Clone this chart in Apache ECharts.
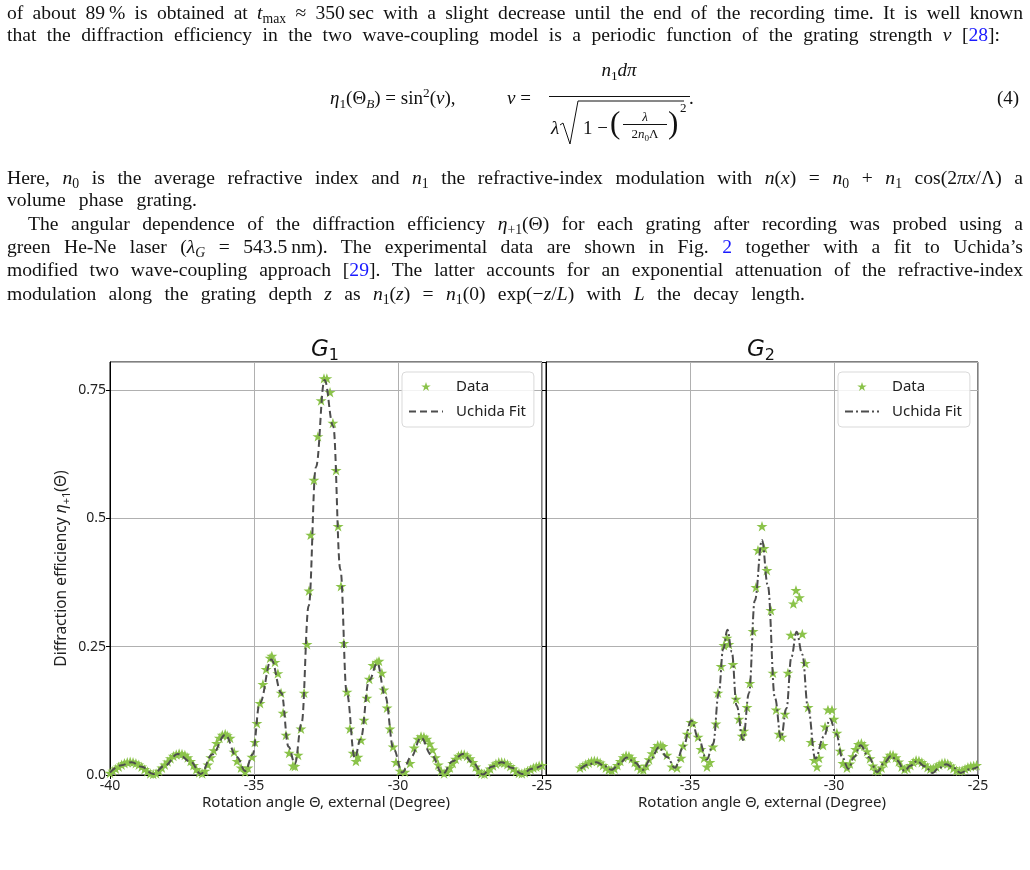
<!doctype html>
<html>
<head>
<meta charset="utf-8">
<style>
body { margin: 0; background: #fff; }
#chart { position: absolute; left: 0; top: 0; width: 1030px; height: 870px; }
.ln { position: absolute; font-family: "Liberation Serif", serif; font-size: 19.6px; line-height: 22px;
      text-align: justify; text-align-last: justify; color: #111; z-index: 2; }
.m { position: absolute; font-family: "Liberation Serif", serif; font-size: 19px; line-height: 19px;
     white-space: nowrap; color: #111; z-index: 2; }
sub { font-size: 70%; vertical-align: -0.3em; line-height: 0; }
sup { font-size: 70%; vertical-align: 0.5em; line-height: 0; }
.b { color: #1a1aff; }
</style>
<script src="https://cdn.jsdelivr.net/npm/echarts@6/dist/echarts.min.js"></script>
</head>
<body>
<div class="ln" style="left:7px;top:2px;width:1016px">of about 89&thinsp;% is obtained at <i>t</i><sub>max</sub> &asymp; 350&thinsp;sec with a slight decrease until the end of the recording time. It is well known</div>
<div class="ln" style="left:7px;top:24px;width:993px">that the diffraction efficiency in the two wave-coupling model is a periodic function of the grating strength <i>&nu;</i> [<span class="b">28</span>]:</div>

<!-- equation (4) -->
<div class="m" style="left:330px;top:88px"><i>&eta;</i><sub>1</sub>(&Theta;<sub><i>B</i></sub>) = sin<sup>2</sup>(<i>&nu;</i>),</div>
<div class="m" style="left:507px;top:88px"><i>&nu;</i> =</div>
<div class="m" style="left:549px;top:60px;width:140px;text-align:center"><i>n</i><sub>1</sub><i>d&pi;</i></div>
<div style="position:absolute;left:549px;top:96px;width:141px;border-top:1px solid #111"></div>
<div class="m" style="left:551px;top:118px"><i>&lambda;</i></div>
<svg style="position:absolute;left:558px;top:98px" width="128" height="50">
  <polyline points="2,27 5,25 12,46 20,3 126,3" fill="none" stroke="#111" stroke-width="1"/>
</svg>
<div class="m" style="left:583px;top:118px">1 &minus;</div>
<div class="m" style="left:610px;top:107px;font-size:31px;line-height:31px">(</div>
<div class="m" style="left:622px;top:110px;width:46px;text-align:center;font-size:13px;line-height:13px"><i>&lambda;</i></div>
<div style="position:absolute;left:623px;top:124px;width:44px;border-top:1px solid #111"></div>
<div class="m" style="left:622px;top:127px;width:46px;text-align:center;font-size:13px;line-height:13px">2<i>n</i><sub>0</sub>&Lambda;</div>
<div class="m" style="left:668px;top:107px;font-size:31px;line-height:31px">)</div>
<div class="m" style="left:680px;top:101px;font-size:13px;line-height:13px">2</div>
<div class="m" style="left:689px;top:88px">.</div>
<div class="m" style="left:997px;top:88px">(4)</div>

<div class="ln" style="left:7px;top:167px;width:1016px">Here, <i>n</i><sub>0</sub> is the average refractive index and <i>n</i><sub>1</sub> the refractive-index modulation with <i>n</i>(<i>x</i>) = <i>n</i><sub>0</sub> + <i>n</i><sub>1</sub> cos(2<i>&pi;x</i>/&Lambda;) a</div>
<div class="ln" style="left:7px;top:189px;width:190px">volume phase grating.</div>
<div class="ln" style="left:28px;top:213px;width:995px">The angular dependence of the diffraction efficiency <i>&eta;</i><sub>+1</sub>(&Theta;) for each grating after recording was probed using a</div>
<div class="ln" style="left:7px;top:236px;width:1016px">green He-Ne laser (<i>&lambda;</i><sub><i>G</i></sub> = 543.5&thinsp;nm). The experimental data are shown in Fig. <span class="b">2</span> together with a fit to Uchida&rsquo;s</div>
<div class="ln" style="left:7px;top:259px;width:1016px">modified two wave-coupling approach [<span class="b">29</span>]. The latter accounts for an exponential attenuation of the refractive-index</div>
<div class="ln" style="left:7px;top:283px;width:798px">modulation along the grating depth <i>z</i> as <i>n</i><sub>1</sub>(<i>z</i>) = <i>n</i><sub>1</sub>(0) exp(&minus;<i>z</i>/<i>L</i>) with <i>L</i> the decay length.</div>

<div id="chart"></div>

<script type="text/javascript">
var g1Data = [
    [-40.0,0.004],[-39.9,0.008],[-39.8,0.012],[-39.7,0.016],[-39.6,0.02],[-39.5,0.023],[-39.4,0.025],[-39.3,0.026],
    [-39.2,0.025],[-39.1,0.023],[-39.0,0.02],[-38.9,0.016],[-38.8,0.011],[-38.7,0.007],[-38.6,0.003],[-38.5,0.002],
    [-38.4,0.003],[-38.3,0.008],[-38.2,0.014],[-38.1,0.02],[-38.0,0.026],[-37.9,0.032],[-37.8,0.037],[-37.7,0.04],
    [-37.6,0.042],[-37.5,0.041],[-37.4,0.039],[-37.3,0.034],[-37.2,0.027],[-37.1,0.019],[-37.0,0.011],[-36.9,0.005],
    [-36.8,0.003],[-36.7,0.008],[-36.6,0.02],[-36.5,0.034],[-36.4,0.048],[-36.3,0.062],[-36.2,0.072],[-36.1,0.078],
    [-36.0,0.08],[-35.93,0.077],[-35.83,0.072],[-35.69,0.045],[-35.59,0.027],[-35.45,0.014],[-35.31,0.006],[-35.21,0.014],
    [-35.07,0.035],[-34.97,0.064],[-34.9,0.101],[-34.79,0.14],[-34.69,0.177],[-34.58,0.206],[-34.44,0.228],[-34.38,0.232],
    [-34.27,0.22],[-34.17,0.198],[-34.06,0.16],[-33.99,0.121],[-33.89,0.078],[-33.78,0.043],[-33.65,0.018],[-33.58,0.017],
    [-33.47,0.039],[-33.37,0.09],[-33.26,0.16],[-33.16,0.255],[-33.09,0.359],[-33.03,0.468],[-32.92,0.575],[-32.78,0.66],
    [-32.67,0.73],[-32.57,0.773],[-32.47,0.773],[-32.36,0.746],[-32.26,0.686],[-32.15,0.594],[-32.08,0.485],[-31.98,0.368],
    [-31.88,0.257],[-31.77,0.162],[-31.67,0.09],[-31.56,0.043],[-31.46,0.027],[-31.39,0.035],[-31.28,0.068],[-31.18,0.107],
    [-31.08,0.15],[-31.0,0.187],[-30.87,0.214],[-30.73,0.22],[-30.66,0.222],[-30.56,0.199],[-30.49,0.166],[-30.38,0.131],
    [-30.28,0.09],[-30.17,0.055],[-30.07,0.025],[-29.93,0.008],[-29.76,0.006],[-29.58,0.023],[-29.44,0.053],[-29.31,0.07],
    [-29.2,0.075],[-29.1,0.074],[-29.0,0.07],[-28.9,0.061],[-28.8,0.049],[-28.7,0.034],[-28.6,0.02],[-28.5,0.008],
    [-28.4,0.003],[-28.3,0.006],[-28.2,0.014],[-28.1,0.023],[-28.0,0.031],[-27.9,0.037],[-27.8,0.04],[-27.7,0.04],
    [-27.6,0.037],[-27.5,0.032],[-27.4,0.025],[-27.3,0.016],[-27.2,0.008],[-27.1,0.003],[-27.0,0.002],[-26.9,0.006],
    [-26.8,0.012],[-26.7,0.018],[-26.6,0.022],[-26.5,0.025],[-26.4,0.025],[-26.3,0.024],[-26.2,0.021],[-26.1,0.017],
    [-26.0,0.012],[-25.9,0.007],[-25.8,0.004],[-25.7,0.003],[-25.6,0.005],[-25.5,0.008],[-25.4,0.011],[-25.3,0.014],
    [-25.2,0.016],[-25.1,0.018],[-25.0,0.019]
];
var g1Fit = [
    [-40.0,0.005],[-39.6,0.019],[-39.25,0.025],[-38.9,0.016],[-38.5,0.002],[-38.1,0.018],[-37.65,0.041],[-37.2,0.026],
    [-36.85,0.002],[-36.45,0.04],[-36.0,0.078],[-35.6,0.035],[-35.3,0.008],[-35.05,0.04],[-34.8,0.14],[-34.4,0.225],
    [-34.05,0.16],[-33.8,0.055],[-33.58,0.022],[-33.35,0.1],[-33.1,0.33],[-32.85,0.6],[-32.55,0.77],[-32.25,0.68],
    [-32.0,0.4],[-31.78,0.16],[-31.5,0.033],[-31.3,0.07],[-31.0,0.185],[-30.72,0.218],[-30.45,0.155],[-30.15,0.05],
    [-29.85,0.005],[-29.55,0.035],[-29.2,0.073],[-28.85,0.04],[-28.45,0.002],[-28.1,0.027],[-27.75,0.041],[-27.4,0.024],
    [-27.05,0.001],[-26.75,0.016],[-26.4,0.025],[-26.05,0.014],[-25.7,0.002],[-25.35,0.012],[-25.0,0.019]
];
var g2Data = [
    [-38.82,0.014],[-38.72,0.017],[-38.62,0.021],[-38.52,0.024],[-38.42,0.027],[-38.32,0.028],[-38.22,0.027],[-38.12,0.024],
    [-38.02,0.019],[-37.92,0.014],[-37.82,0.01],[-37.72,0.009],[-37.62,0.012],[-37.52,0.019],[-37.42,0.027],[-37.32,0.034],
    [-37.22,0.038],[-37.12,0.037],[-37.02,0.032],[-36.92,0.025],[-36.82,0.017],[-36.72,0.011],[-36.62,0.01],[-36.52,0.018],
    [-36.42,0.03],[-36.32,0.042],[-36.22,0.052],[-36.12,0.058],[-36.02,0.058],[-35.94,0.056],[-35.8,0.039],[-35.63,0.016],
    [-35.45,0.014],[-35.31,0.033],[-35.24,0.057],[-35.1,0.08],[-34.97,0.103],[-34.9,0.101],[-34.72,0.074],[-34.62,0.05],
    [-34.51,0.033],[-34.41,0.016],[-34.31,0.025],[-34.2,0.055],[-34.1,0.1],[-34.03,0.16],[-33.92,0.212],[-33.82,0.253],
    [-33.72,0.267],[-33.65,0.255],[-33.51,0.216],[-33.4,0.148],[-33.3,0.109],[-33.19,0.076],[-33.13,0.086],[-33.02,0.132],
    [-32.92,0.179],[-32.81,0.28],[-32.71,0.366],[-32.64,0.438],[-32.5,0.485],[-32.43,0.442],[-32.33,0.399],[-32.19,0.321],
    [-32.12,0.199],[-32.01,0.127],[-31.91,0.08],[-31.81,0.074],[-31.7,0.119],[-31.6,0.199],[-31.5,0.273],[-31.41,0.334],
    [-31.32,0.36],[-31.2,0.346],[-31.1,0.275],[-31.0,0.218],[-30.9,0.132],[-30.8,0.064],[-30.69,0.029],[-30.59,0.016],
    [-30.52,0.033],[-30.38,0.058],[-30.31,0.094],[-30.21,0.127],[-30.07,0.127],[-30.0,0.109],[-29.9,0.082],[-29.79,0.047],
    [-29.69,0.023],[-29.55,0.014],[-29.45,0.022],[-29.35,0.036],[-29.25,0.05],[-29.15,0.06],[-29.05,0.062],[-28.95,0.057],
    [-28.85,0.046],[-28.75,0.032],[-28.65,0.018],[-28.55,0.009],[-28.45,0.008],[-28.35,0.014],[-28.25,0.024],[-28.15,0.033],
    [-28.05,0.039],[-27.95,0.039],[-27.85,0.034],[-27.75,0.026],[-27.65,0.016],[-27.55,0.011],[-27.45,0.013],[-27.35,0.019],
    [-27.25,0.025],[-27.15,0.029],[-27.05,0.028],[-26.95,0.025],[-26.85,0.02],[-26.75,0.015],[-26.65,0.012],[-26.55,0.013],
    [-26.45,0.016],[-26.35,0.02],[-26.25,0.023],[-26.15,0.024],[-26.05,0.022],[-25.95,0.018],[-25.85,0.013],[-25.75,0.009],
    [-25.65,0.008],[-25.55,0.009],[-25.45,0.012],[-25.35,0.015],[-25.25,0.017],[-25.15,0.018],[-25.05,0.019]
];
var g2Fit = [
    [-38.8,0.012],[-38.5,0.021],[-38.25,0.025],[-37.95,0.017],[-37.72,0.01],[-37.45,0.022],[-37.2,0.034],[-36.9,0.024],
    [-36.65,0.01],[-36.35,0.032],[-36.08,0.054],[-35.8,0.035],[-35.52,0.014],[-35.25,0.052],[-34.95,0.106],[-34.7,0.07],
    [-34.42,0.03],[-34.2,0.06],[-34.0,0.16],[-33.85,0.245],[-33.7,0.283],[-33.55,0.24],[-33.38,0.135],[-33.16,0.068],
    [-32.95,0.16],[-32.75,0.34],[-32.5,0.458],[-32.3,0.37],[-32.05,0.15],[-31.84,0.072],[-31.65,0.13],[-31.48,0.23],
    [-31.3,0.279],[-31.1,0.235],[-30.9,0.13],[-30.65,0.032],[-30.35,0.075],[-30.14,0.109],[-29.92,0.08],[-29.72,0.035],
    [-29.5,0.012],[-29.3,0.035],[-29.08,0.058],[-28.8,0.035],[-28.5,0.006],[-28.25,0.024],[-28.02,0.037],[-27.8,0.028],
    [-27.55,0.008],[-27.35,0.018],[-27.12,0.027],[-26.85,0.017],[-26.58,0.004],[-26.35,0.014],[-26.1,0.021],[-25.85,0.014],
    [-25.6,0.004],[-25.3,0.011],[-25.0,0.016]
];
var panelTitles = ['1', '2'];
var legendNames = {'G2 Data': 'Data', 'G2 Fit': 'Uchida Fit'};

var starPath = 'path://M50,0L61.8,35.3L99,35.3L68.9,57.1L80.2,92.7L50,70.8L19.8,92.7L31.1,57.1L1,35.3L38.2,35.3Z';
var font = 'Noto Sans';
var starColor = '#8bc34a';
var fitColor = '#4d4d4d';

var myChart = echarts.init(document.getElementById('chart'));

function xAx(i) {
    return {
        type: 'value', gridIndex: i, min: -40, max: -25, interval: 5,
        name: 'Rotation angle \u0398, external (Degree)',
        nameLocation: 'middle', nameGap: 20,
        nameTextStyle: {fontFamily: font, fontSize: 15, color: '#222'},
        axisLine: {onZero: false, lineStyle: {color: '#000', width: 1}},
        axisTick: {length: 4, lineStyle: {color: '#000'}},
        axisLabel: {fontFamily: font, fontSize: 14, color: '#222', margin: 4, showMinLabel: i === 0},
        splitLine: {show: true, lineStyle: {color: '#b0b0b0', width: 1}}
    };
}
function yAx(i) {
    var ax = {
        type: 'value', gridIndex: i, min: 0, max: 0.805, interval: 0.25,
        axisLine: {lineStyle: {color: '#000', width: 1}},
        axisTick: {length: 4, lineStyle: {color: '#000'}},
        axisLabel: {
            show: i === 0, fontFamily: font, fontSize: 14, color: '#222', margin: 4, showMaxLabel: false,
            formatter: function (v) { return v === 0 ? '0.0' : String(v); }
        },
        splitLine: {show: true, lineStyle: {color: '#b0b0b0', width: 1}}
    };
    if (i === 0) {
        ax.name = '{t|Diffraction efficiency }{e|\u03b7}{s|+1}{t|(\u0398)}';
        ax.nameLocation = 'middle';
        ax.nameGap = 38;
        ax.nameTextStyle = {
            rich: {
                t: {fontFamily: font, fontSize: 15.5, color: '#222', lineHeight: 21, verticalAlign: 'middle'},
                e: {fontFamily: font, fontSize: 15.5, fontStyle: 'italic', color: '#222', lineHeight: 21, verticalAlign: 'middle'},
                s: {fontFamily: font, fontSize: 11, color: '#222', verticalAlign: 'bottom'}
            }
        };
    }
    return ax;
}
function legendBox(left, names) {
    return {
        left: left, top: 372, orient: 'vertical', data: names,
        itemWidth: 34, itemHeight: 9, itemGap: 10,
        padding: [7, 8, 8, 6],
        borderColor: '#d9d9d9', borderWidth: 1, borderRadius: 4,
        backgroundColor: 'rgba(255,255,255,0.85)',
        textStyle: {fontFamily: font, fontSize: 15, color: '#222', padding: [0, 0, 0, 8]},
        formatter: function (n) { return legendNames[n] || n; }
    };
}
function titleBox(left, sub) {
    return {
        text: '{g|G}{s|' + sub + '}', left: left, top: 336, padding: 0,
        textStyle: {
            fontWeight: 'normal',
            rich: {
                g: {fontFamily: 'DejaVu Sans', fontStyle: 'italic', fontWeight: 'normal', fontSize: 23, color: '#111', lineHeight: 28, verticalAlign: 'middle'},
                s: {fontFamily: 'DejaVu Sans', fontWeight: 'normal', fontSize: 16, color: '#111', verticalAlign: 'bottom'}
            }
        }
    };
}
// legend entries for the fit lines: line only, no marker
function fitEntry(n) { return {name: n, itemStyle: {opacity: 0}}; }

var option = {
    animation: false,
    title: [titleBox(311, panelTitles[0]), titleBox(747, panelTitles[1])],
    legend: [legendBox(402, ['Data', fitEntry('Uchida Fit')]), legendBox(838, ['G2 Data', fitEntry('G2 Fit')])],
    grid: [
        {left: 110, top: 362, width: 432, height: 413, show: true, borderColor: '#000', borderWidth: 1},
        {left: 546, top: 362, width: 432, height: 413, show: true, borderColor: '#000', borderWidth: 1}
    ],
    xAxis: [xAx(0), xAx(1)],
    yAxis: [yAx(0), yAx(1)],
    series: [
        {name: 'Data', type: 'scatter', xAxisIndex: 0, yAxisIndex: 0, data: g1Data,
         symbol: starPath, symbolSize: 11, symbolKeepAspect: true, itemStyle: {color: starColor, opacity: 1}},
        {name: 'Uchida Fit', type: 'line', xAxisIndex: 0, yAxisIndex: 0, data: g1Fit,
         smooth: 0.4, smoothMonotone: 'x', symbol: 'none',
         lineStyle: {color: fitColor, width: 2, type: [7, 4]}, itemStyle: {color: fitColor}},
        {name: 'G2 Data', type: 'scatter', xAxisIndex: 1, yAxisIndex: 1, data: g2Data,
         symbol: starPath, symbolSize: 11, symbolKeepAspect: true, itemStyle: {color: starColor, opacity: 1}},
        {name: 'G2 Fit', type: 'line', xAxisIndex: 1, yAxisIndex: 1, data: g2Fit,
         smooth: 0.4, smoothMonotone: 'x', symbol: 'none',
         lineStyle: {color: fitColor, width: 2, type: [8, 3, 2, 3]}, itemStyle: {color: fitColor}}
    ]
};
myChart.setOption(option);
</script>
</body>
</html>
